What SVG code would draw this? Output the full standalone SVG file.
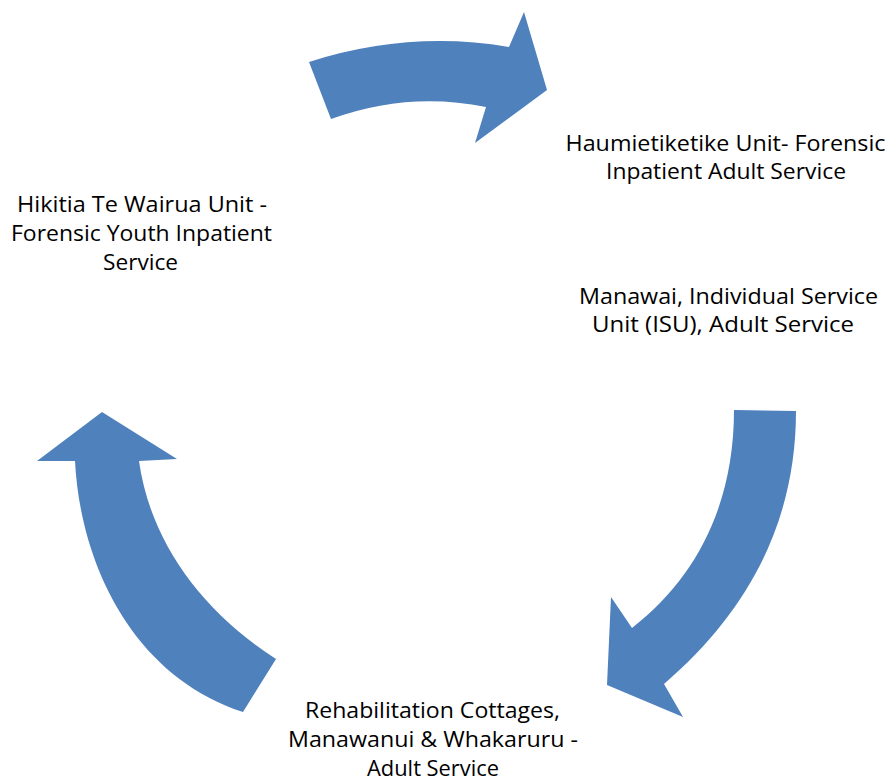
<svg xmlns="http://www.w3.org/2000/svg" width="889" height="778" viewBox="0 0 889 778">
  <style>
    .arrow { fill: #4F81BD; stroke: none; }
    .label { font-family: "Open Sans", "Liberation Sans", sans-serif; font-size: 21px; fill: #000000; text-anchor: middle; }
  </style>
  <rect width="889" height="778" fill="#ffffff"/>

  <!-- curved arrows of the cycle -->
  <g id="connectors">
    <path class="arrow" d="M309,62 Q409,30 509,47 L524,12 L547,90 L475,143 L486,107 Q408,91 331,119 Z"/>
    <path class="arrow" d="M734,410 L796,411 C796,520 750,610 664,684 L683,717 L607,685 L611,597 L632,628 C700,575 734,500 734,410 Z"/>
    <path class="arrow" d="M276,659 L243,712 C130,675 80,560 75,461 L37,461 L102,412 L177,459 L139,461 C150,540 200,610 276,659 Z"/>
  </g>

  <g id="node-haumietiketike">
    <text class="label"><tspan x="725.5" y="151" textLength="320" lengthAdjust="spacingAndGlyphs">Haumietiketike Unit- Forensic</tspan><tspan x="726" y="179" textLength="240" lengthAdjust="spacingAndGlyphs">Inpatient Adult Service</tspan></text>
  </g>

  <g id="node-manawai">
    <text class="label"><tspan x="728.5" y="304" textLength="299" lengthAdjust="spacingAndGlyphs">Manawai, Individual Service</tspan><tspan x="723" y="332" textLength="262" lengthAdjust="spacingAndGlyphs">Unit (ISU), Adult Service</tspan></text>
  </g>

  <g id="node-rehabilitation">
    <text class="label"><tspan x="432.5" y="718" textLength="255" lengthAdjust="spacingAndGlyphs">Rehabilitation Cottages,</tspan><tspan x="433" y="747" textLength="290" lengthAdjust="spacingAndGlyphs">Manawanui &amp; Whakaruru -</tspan><tspan x="433" y="776" textLength="132" lengthAdjust="spacingAndGlyphs">Adult Service</tspan></text>
  </g>

  <g id="node-hikitia">
    <text class="label"><tspan x="142" y="212" textLength="250" lengthAdjust="spacingAndGlyphs">Hikitia Te Wairua Unit -</tspan><tspan x="141.5" y="241" textLength="261" lengthAdjust="spacingAndGlyphs">Forensic Youth Inpatient</tspan><tspan x="140.5" y="270" textLength="75" lengthAdjust="spacingAndGlyphs">Service</tspan></text>
  </g>
</svg>
